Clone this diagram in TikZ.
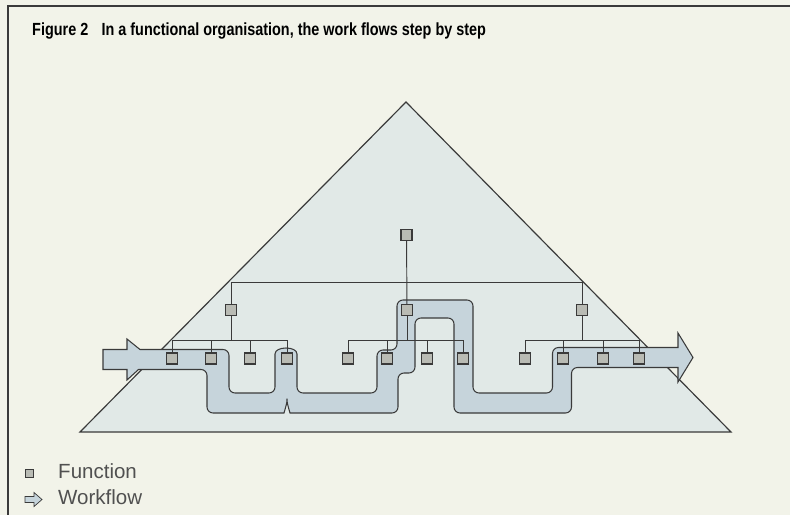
\documentclass[tikz,border=0pt]{standalone}
\usepackage{fontspec}
\setmainfont{Liberation Sans}
\newfontfamily\titlefont{Liberation Sans}[FakeStretch=0.82]
\usetikzlibrary{positioning}

\definecolor{paper}{HTML}{F2F3E9}
\definecolor{pyramid}{HTML}{E1E9E7}
\definecolor{flow}{HTML}{C6D4DB}
\definecolor{func}{HTML}{B9BBB4}
\definecolor{ink}{HTML}{3A3A3A}
\definecolor{keytext}{HTML}{505050}

\tikzset{
  funcbox/.style={draw=ink, fill=func, line width=0.9pt, minimum size=3.3mm, inner sep=0pt},
  wire/.style={draw=ink, line width=0.8pt},
  flowband/.style={draw=ink, fill=flow, line width=0.9pt},
  keylabel/.style={anchor=base west, inner sep=0pt, text=keytext, font=\fontsize{17.5pt}{20pt}\selectfont}
}

\begin{document}
\begin{tikzpicture}[x=0.3mm,y=-0.3mm]
  % Background and frame
  \fill[paper] (0,0) rectangle (790,515);
  \useasboundingbox (0,0) rectangle (790,515);
  \draw[ink, line width=1.2pt] (8,515) -- (8,6) -- (790,6);

  % Title
  \node[anchor=base west, inner sep=0pt] (title) at (32,35)
    {\titlefont\bfseries\fontsize{15pt}{17pt}\selectfont Figure 2\hspace{4mm}In a functional organisation, the work flows step by step};

  % Pyramid
  \draw[ink, line width=1pt, fill=pyramid] (80,432) -- (406,102) -- (731,432) -- cycle;

  % Workflow band
  \draw[flowband] (103,349.5) -- (127,349.5) -- (127,339) -- (140,349.5) [rounded corners=1.8mm]
    -- (229,349.5) -- (229,393) -- (275,393) -- (275,360) .. controls (275,346) and (297,346) .. (297,360)
    -- (297,393) -- (377,393) -- (377,350) -- (397,350) -- (397,300) -- (473,300) -- (473,393)
    -- (552.5,393) -- (552.5,347.5) [sharp corners] -- (678,347.5) -- (678,333) -- (693,357.5)
    -- (678,382) -- (678,367.5) [rounded corners=1.8mm] -- (571.5,367.5) -- (571.5,413) -- (454,413)
    -- (454,318) -- (415,318) -- (415,373) -- (398,373) -- (398,413) -- (296,413)
    .. controls (290,413) and (287,403) .. (287,395) .. controls (287,403) and (284,413) .. (278,413)
    -- (207,413) -- (207,369.5) [sharp corners] -- (138.5,369.5) -- (127,380) -- (127,369.5)
    -- (103,369.5) -- cycle;

  % Functions
  \node[funcbox] (top) at (406.5,235) {};
  \node[funcbox] (a) at (231,310) {};
  \node[funcbox] (b) at (407,310) {};
  \node[funcbox] (c) at (582,310) {};
  \foreach \i/\x in {1/172,2/211,3/250,4/287} \node[funcbox] (a\i) at (\x,358.5) {};
  \foreach \i/\x in {1/348,2/387,3/427,4/463} \node[funcbox] (b\i) at (\x,358.5) {};
  \foreach \i/\x in {1/525,2/563,3/603,4/639} \node[funcbox] (c\i) at (\x,358.5) {};

  % Reporting lines
  \coordinate (bar) at (407,282);
  \draw[wire] (top) -- (b);
  \draw[wire] (a |- bar) -- (c |- bar);
  \draw[wire] (a |- bar) -- (a);
  \draw[wire] (c |- bar) -- (c);
  \foreach \g in {a,b,c} {
    \coordinate (bar\g) at (\g |- 0,340);
    \draw[wire] (\g1 |- bar\g) -- (\g4 |- bar\g);
    \draw[wire] (\g) -- (bar\g);
    \foreach \i in {1,...,4} \draw[wire] (\g\i |- bar\g) -- (\g\i);
  }

  % Key
  \node[funcbox, minimum size=2.4mm, line width=0.6pt] (keyfunc) at (29.5,473) {};
  \node[keylabel] (keyfunctext) at (58,478) {Function};
  \draw[flowband, line width=0.6pt] (25,496.5) -- (34,496.5) -- (34,492.5) -- (42,499.5)
    -- (34,506.5) -- (34,502.5) -- (25,502.5) -- cycle;
  \node[keylabel] (keyflowtext) at (58,504) {Workflow};
\end{tikzpicture}
\end{document}
